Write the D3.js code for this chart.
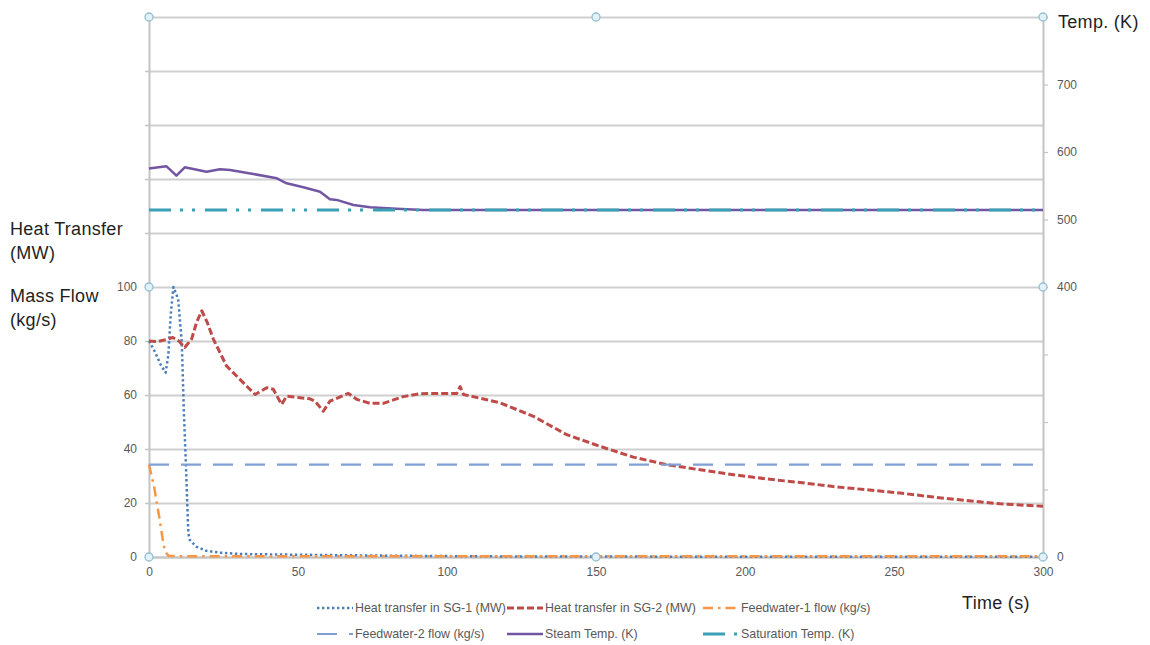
<!DOCTYPE html>
<html>
<head>
<meta charset="utf-8">
<script src="https://cdn.jsdelivr.net/npm/d3@7"></script>
<style>
  body { margin: 0; background: #fff; }
  svg text { font-family: "Liberation Sans", Arial, sans-serif; }
</style>
</head>
<body>
<div id="chart"></div>
<script>
// Series: [time (s), value]
const sg1Heat = [[0, 80], [2, 76], [4, 71], [5.6, 68.3], [6.5, 75], [7.3, 90], [8.2, 100], [9.8, 95.5],
    [11, 79.4], [11.7, 53.5], [12.4, 33.6], [13.2, 8.8], [13.7, 6.3], [15.9, 3.8], [19.2, 2.3],
    [23.8, 1.6], [30.5, 1.1], [45, 0.9], [61.7, 0.7], [80, 0.5], [97.6, 0.35], [120, 0.2], [200, 0.1], [300, 0.1]];
const sg2Heat = [[0, 80], [3, 79.8], [5.9, 80.6], [8, 81.3], [10, 80], [12, 77.6], [14.3, 80.7], [16, 87],
    [17.7, 91.2], [19.5, 87], [21.6, 80.7], [26, 70.8], [30.5, 65.8], [35.6, 60.2], [39.5, 62.7], [41.7, 62.1],
    [44.5, 56.5], [46.2, 59.6], [50.7, 59], [54, 58.6], [55.7, 57.7], [58.5, 54], [60.7, 57.7], [66.9, 60.6],
    [69.7, 58.4], [74.2, 56.9], [78.6, 56.9], [85.3, 59.4], [91, 60.5], [103.3, 60.6], [104.4, 63.1],
    [105.5, 60.2], [115.5, 57.7], [117.8, 57.1], [129, 52.1], [140.2, 45.3], [151.3, 41], [162.5, 37],
    [173.7, 34.2], [184.9, 32.3], [196.1, 30.5], [207.3, 28.9], [218.5, 27.6], [229.6, 26.1], [240.8, 24.9],
    [252, 23.7], [263.2, 22.2], [274.4, 20.9], [285.6, 19.7], [300, 18.8]];
const fw1Flow = [[0, 34.2], [1.7, 26.1], [3.5, 14.4], [4.8, 5.1], [5.4, 2], [6.5, 0.5], [10, 0.3], [300, 0.3]];
const fw2Flow = [[0, 34.2], [300, 34.2]];
const steamTemp = [[0, 575.5], [5.8, 579], [9.2, 564.9], [12, 577.3], [19.3, 570.8], [23.8, 574.4], [27.2, 573.3],
    [35, 567.4], [42.9, 561], [46.2, 553.6], [51.8, 547.7], [57.4, 541.2], [60.7, 530], [63, 529],
    [68.6, 521.5], [74.2, 518.1], [83, 516], [92, 514], [300, 514]];
const satTemp = [[0, 514], [300, 514]];

const xTicks = [0, 50, 100, 150, 200, 250, 300];
const leftTicks = [0, 20, 40, 60, 80, 100, 120, 140, 160, 180, 200];
const leftLabels = [0, 20, 40, 60, 80, 100];
const rightTicks = [0, 100, 200, 300, 400, 500, 600, 700, 800];
const rightLabels = [0, 400, 500, 600, 700];

const legendNames = ["Heat transfer in SG-1 (MW)", "Heat transfer in SG-2 (MW)", "Feedwater-1 flow (kg/s)",
    "Feedwater-2 flow (kg/s)", "Steam Temp. (K)", "Saturation Temp. (K)"];

const width = 1150, height = 645;
const plot = { left: 149, right: 1043, top: 17, bottom: 557 };

const svg = d3.select("#chart").append("svg")
    .attr("width", width)
    .attr("height", height);

const x = d3.scaleLinear().domain([0, 300]).range([plot.left, plot.right]);
const yLeft = d3.scaleLinear().domain([0, 200]).range([plot.bottom, plot.top]);
const yRight = d3.scaleLinear().domain([0, 800]).range([plot.bottom, plot.top]);

const gridColor = "#cfcfcf";
const textColor = "#595959";

// gridlines
svg.append("g")
    .attr("transform", `translate(${plot.left},0)`)
    .call(d3.axisLeft(yLeft).tickValues(leftTicks).tickSize(-(plot.right - plot.left)).tickFormat(""))
    .call(g => g.select(".domain").remove())
    .call(g => g.selectAll("line").attr("stroke", gridColor).attr("stroke-width", 1.8));

// left axis
svg.append("g")
    .attr("transform", `translate(${plot.left},0)`)
    .call(d3.axisLeft(yLeft).tickValues(leftTicks).tickSize(4).tickPadding(8)
        .tickFormat(d => leftLabels.includes(d) ? d : ""))
    .call(g => g.select(".domain").attr("stroke", "#c4c4c4").attr("stroke-width", 2))
    .call(g => g.selectAll("line").attr("stroke", "#c4c4c4").attr("stroke-width", 1.5))
    .call(g => g.selectAll("text").attr("fill", textColor).style("font-size", "12px"));

// right axis
svg.append("g")
    .attr("transform", `translate(${plot.right},0)`)
    .call(d3.axisRight(yRight).tickValues(rightTicks).tickSize(5).tickPadding(9)
        .tickFormat(d => rightLabels.includes(d) ? d : ""))
    .call(g => g.select(".domain").attr("stroke", "#c4c4c4").attr("stroke-width", 2))
    .call(g => g.selectAll("line").attr("stroke", "#c4c4c4").attr("stroke-width", 1.2))
    .call(g => g.selectAll("text").attr("fill", textColor).style("font-size", "12px"));

// bottom axis
svg.append("g")
    .attr("transform", `translate(0,${plot.bottom})`)
    .call(d3.axisBottom(x).tickValues(xTicks).tickSize(0).tickPadding(10))
    .call(g => g.select(".domain").attr("stroke", "#c4c4c4").attr("stroke-width", 2))
    .call(g => g.selectAll("text").attr("fill", textColor).style("font-size", "12px"));

// series
const series = [
    { data: sg1Heat, y: yLeft, color: "#4a7ebb", width: 2.5, dash: "2.4,2.6" },
    { data: sg2Heat, y: yLeft, color: "#be4b48", width: 3, dash: "7,3" },
    { data: fw1Flow, y: yLeft, color: "#f79646", width: 2.5, dash: "10,5,2.5,5" },
    { data: fw2Flow, y: yLeft, color: "#7f9fd6", width: 2.2, dash: "20,12" },
    { data: steamTemp, y: yRight, color: "#7356a2", width: 2.5, dash: null },
    { data: satTemp, y: yRight, color: "#3aa0b5", width: 3, dash: "22,9,3,9,3,10" }
];

series.forEach(s => {
    const line = d3.line().x(d => x(d[0])).y(d => s.y(d[1]));
    svg.append("path")
        .datum(s.data)
        .attr("d", line)
        .attr("fill", "none")
        .attr("stroke", s.color)
        .attr("stroke-width", s.width)
        .attr("stroke-dasharray", s.dash)
        .attr("stroke-linejoin", "round");
});

// plot area handles
const midX = (plot.left + plot.right) / 2, midY = (plot.top + plot.bottom) / 2;
const handles = [[plot.left, plot.top], [midX, plot.top], [plot.right, plot.top],
    [plot.left, midY], [plot.right, midY],
    [plot.left, plot.bottom], [midX, plot.bottom], [plot.right, plot.bottom]];
svg.selectAll("circle.handle")
    .data(handles)
    .enter()
    .append("circle")
    .attr("class", "handle")
    .attr("cx", d => d[0])
    .attr("cy", d => d[1])
    .attr("r", 4)
    .attr("fill", "#e3f2f8")
    .attr("stroke", "#92bfd2")
    .attr("stroke-width", 1.3);

// axis titles
const titleStyle = sel => sel.attr("fill", "#1f1f1f").style("font-size", "18px").style("letter-spacing", "0.3px");
svg.append("text").attr("x", 10).attr("y", 235).text("Heat Transfer").call(titleStyle);
svg.append("text").attr("x", 10).attr("y", 259).text("(MW)").call(titleStyle);
svg.append("text").attr("x", 10).attr("y", 302).text("Mass Flow").call(titleStyle);
svg.append("text").attr("x", 10).attr("y", 326).text("(kg/s)").call(titleStyle);
svg.append("text").attr("x", 1058).attr("y", 28).text("Temp. (K)").call(titleStyle);
svg.append("text").attr("x", 962).attr("y", 609).text("Time (s)").call(titleStyle);

// legend
const legendCols = [317, 507, 703];
const legendRows = [608, 634];
const legend = svg.append("g");
series.forEach((s, i) => {
    const lx = legendCols[i % 3], ly = legendRows[Math.floor(i / 3)];
    legend.append("line")
        .attr("x1", lx).attr("x2", lx + 36)
        .attr("y1", ly).attr("y2", ly)
        .attr("stroke", s.color)
        .attr("stroke-width", s.width)
        .attr("stroke-dasharray", s.dash);
    legend.append("text")
        .attr("x", lx + 38)
        .attr("y", ly + 4)
        .attr("fill", textColor)
        .style("font-size", "12.4px")
        .text(legendNames[i]);
});
</script>
</body>
</html>
